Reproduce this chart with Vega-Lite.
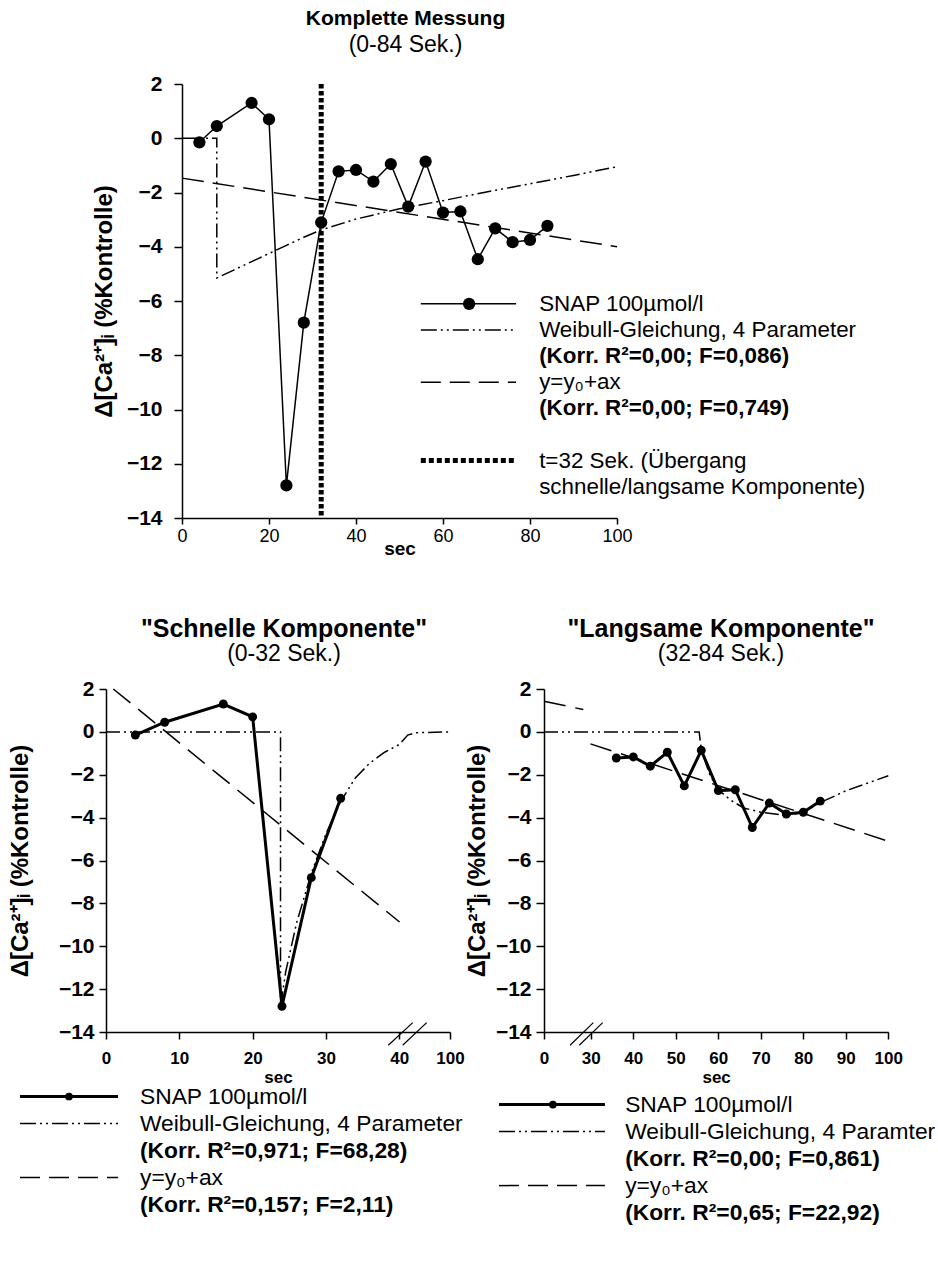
{
  "$schema": "https://vega.github.io/schema/vega-lite/v6.json",
  "padding": {"left": 8, "top": 8, "right": 0, "bottom": 0},
  "background": "white",
  "config": {
    "font": "Liberation Sans",
    "view": {"stroke": null},
    "axis": {
      "grid": false,
      "domainColor": "black",
      "domainWidth": 1.5,
      "tickColor": "black",
      "tickWidth": 1.5,
      "labelColor": "black",
      "titleColor": "black",
      "labelFlush": false,
      "labelOverlap": false
    },
    "title": {
      "color": "black",
      "subtitleColor": "black",
      "anchor": "middle",
      "frame": "group",
      "font": "Liberation Sans",
      "subtitleFont": "Liberation Sans"
    }
  },
  "datasets": {
    "snap": [
      {"t": 4, "v": -0.15}, {"t": 8, "v": 0.45}, {"t": 16, "v": 1.3}, {"t": 20, "v": 0.7},
      {"t": 24, "v": -12.8}, {"t": 28, "v": -6.8}, {"t": 32, "v": -3.1}, {"t": 36, "v": -1.22},
      {"t": 40, "v": -1.17}, {"t": 44, "v": -1.6}, {"t": 48, "v": -0.95}, {"t": 52, "v": -2.52},
      {"t": 56, "v": -0.86}, {"t": 60, "v": -2.74}, {"t": 64, "v": -2.7}, {"t": 68, "v": -4.46},
      {"t": 72, "v": -3.32}, {"t": 76, "v": -3.83}, {"t": 80, "v": -3.75}, {"t": 84, "v": -3.23}
    ],
    "weibullAll": [
      {"i": 0, "t": 0, "v": 0}, {"i": 1, "t": 8, "v": 0}, {"i": 2, "t": 8, "v": -5.15},
      {"i": 3, "t": 12, "v": -4.85}, {"i": 4, "t": 16, "v": -4.55}, {"i": 5, "t": 20, "v": -4.25},
      {"i": 6, "t": 24, "v": -3.95}, {"i": 7, "t": 28, "v": -3.65}, {"i": 8, "t": 32, "v": -3.38},
      {"i": 9, "t": 40, "v": -2.98}, {"i": 10, "t": 50, "v": -2.6}, {"i": 11, "t": 60, "v": -2.3},
      {"i": 12, "t": 70, "v": -1.98}, {"i": 13, "t": 80, "v": -1.68}, {"i": 14, "t": 90, "v": -1.37},
      {"i": 15, "t": 100, "v": -1.05}
    ],
    "linearAll": [{"t": 0, "v": -1.47}, {"t": 100, "v": -4.0}],
    "weibullFast": [
      {"i": 0, "t": 0, "v": 0}, {"i": 1, "t": 23.8, "v": 0}, {"i": 2, "t": 23.8, "v": -12.8},
      {"i": 3, "t": 24.5, "v": -11.2}, {"i": 4, "t": 26, "v": -8.9}, {"i": 5, "t": 28, "v": -6.6},
      {"i": 6, "t": 30, "v": -4.75}, {"i": 7, "t": 32, "v": -3.25}, {"i": 8, "t": 34, "v": -2.15},
      {"i": 9, "t": 36, "v": -1.45}, {"i": 10, "t": 38, "v": -0.95}, {"i": 11, "t": 40.3, "v": -0.58},
      {"i": 12, "t": 50, "v": -0.15}, {"i": 13, "t": 60, "v": -0.04}, {"i": 14, "t": 100, "v": 0}
    ],
    "linearFast": [{"t": 1.0, "v": 2.0}, {"t": 40.3, "v": -8.87}],
    "weibullSlow": [
      {"i": 0, "t": 0, "v": 0}, {"i": 1, "t": 55.5, "v": 0}, {"i": 2, "t": 56, "v": -0.85},
      {"i": 3, "t": 58, "v": -2.0}, {"i": 4, "t": 60, "v": -2.7}, {"i": 5, "t": 63, "v": -3.2},
      {"i": 6, "t": 66, "v": -3.55}, {"i": 7, "t": 70, "v": -3.75}, {"i": 8, "t": 76, "v": -3.9},
      {"i": 9, "t": 80, "v": -3.75}, {"i": 10, "t": 84, "v": -3.3}, {"i": 11, "t": 90, "v": -2.75},
      {"i": 12, "t": 100, "v": -2.05}
    ],
    "linearSlow": [
      {"seg": "a", "t": 0, "v": 1.43}, {"seg": "a", "t": 25.2, "v": 1.04},
      {"seg": "b", "t": 29.8, "v": -0.56}, {"seg": "b", "t": 100, "v": -5.1}
    ],
    "legendTop": [
      {"row": 8, "label": "SNAP 100µmol/l", "kind": "name", "key": "SNAP"},
      {"row": 9, "label": "Weibull-Gleichung, 4 Parameter", "kind": "name", "key": "Weibull"},
      {"row": 10, "label": "(Korr. R²=0,00; F=0,086)", "kind": "fit", "key": ""},
      {"row": 11, "label": "y=y₀+ax", "kind": "name", "key": "Linear"},
      {"row": 12, "label": "(Korr. R²=0,00; F=0,749)", "kind": "fit", "key": ""},
      {"row": 14, "label": "t=32 Sek. (Übergang", "kind": "name", "key": "Grenze"},
      {"row": 15, "label": "schnelle/langsame Komponente)", "kind": "name", "key": ""}
    ],
    "legendFast": [
      {"row": 0, "label": "SNAP 100µmol/l", "kind": "name", "key": "SNAP"},
      {"row": 1, "label": "Weibull-Gleichung, 4 Parameter", "kind": "name", "key": "Weibull"},
      {"row": 2, "label": "(Korr. R²=0,971; F=68,28)", "kind": "fit", "key": ""},
      {"row": 3, "label": "y=y₀+ax", "kind": "name", "key": "Linear"},
      {"row": 4, "label": "(Korr. R²=0,157; F=2,11)", "kind": "fit", "key": ""}
    ],
    "legendSlow": [
      {"row": 0, "label": "SNAP 100µmol/l", "kind": "name", "key": "SNAP"},
      {"row": 1, "label": "Weibull-Gleichung, 4 Paramter", "kind": "name", "key": "Weibull"},
      {"row": 2, "label": "(Korr. R²=0,00; F=0,861)", "kind": "fit", "key": ""},
      {"row": 3, "label": "y=y₀+ax", "kind": "name", "key": "Linear"},
      {"row": 4, "label": "(Korr. R²=0,65; F=22,92)", "kind": "fit", "key": ""}
    ]
  },
  "columns": 1,
  "align": "none",
  "spacing": 59,
  "concat": [
    {
      "spacing": -15,
      "hconcat": [
        {
          "width": 1,
          "height": 1,
          "data": {"values": []},
          "mark": {"type": "point"},
          "encoding": {}
        },
        {
          "width": 435,
          "height": 434,
          "title": {
            "text": "Komplette Messung",
            "subtitle": "(0-84 Sek.)",
            "fontSize": 21,
            "fontWeight": "bold",
            "subtitleFontSize": 23,
            "subtitleFontWeight": "normal",
            "subtitlePadding": 5,
            "offset": 16,
            "dx": 6
          },
          "resolve": {"scale": {"y": "independent"}},
          "layer": [
            {
              "layer": [
                {
                  "data": {"name": "weibullAll"},
                  "mark": {"type": "line", "color": "black", "strokeWidth": 1.5, "strokeDash": [14, 4, 2, 4, 2, 4]},
                  "encoding": {
                    "x": {
                      "field": "t", "type": "quantitative",
                      "scale": {"domain": [0, 100], "nice": false},
                      "axis": {
                        "values": [0, 20, 40, 60, 80, 100], "title": "sec",
                        "labelFontSize": 18, "tickSize": 6, "labelPadding": 3,
                        "titleFontSize": 19, "titleFontWeight": "bold", "titlePadding": -6
                      }
                    },
                    "y": {
                      "field": "v", "type": "quantitative",
                      "scale": {"domain": [-14, 2], "nice": false},
                      "axis": {
                        "values": [-14, -12, -10, -8, -6, -4, -2, 0, 2],
                        "title": "Δ[Ca²⁺]ᵢ (%Kontrolle)",
                        "labelFontSize": 21, "labelFontWeight": "bold", "tickSize": 8, "labelPadding": 12,
                        "titleFontSize": 24, "titleFontWeight": "bold", "titlePadding": 10
                      }
                    },
                    "order": {"field": "i", "type": "quantitative"}
                  }
                },
                {
                  "data": {"name": "linearAll"},
                  "mark": {"type": "line", "color": "black", "strokeWidth": 1.5, "strokeDash": [22, 9]},
                  "encoding": {
                    "x": {"field": "t", "type": "quantitative", "scale": {"domain": [0, 100], "nice": false}},
                    "y": {"field": "v", "type": "quantitative", "scale": {"domain": [-14, 2], "nice": false}}
                  }
                },
                {
                  "data": {"name": "snap"},
                  "mark": {"type": "line", "color": "black", "strokeWidth": 1.5, "point": {"filled": true, "size": 150, "color": "black", "opacity": 1}},
                  "encoding": {
                    "x": {"field": "t", "type": "quantitative", "scale": {"domain": [0, 100], "nice": false}},
                    "y": {"field": "v", "type": "quantitative", "scale": {"domain": [-14, 2], "nice": false}}
                  }
                },
                {
                  "data": {"values": [{}]},
                  "mark": {"type": "rule", "color": "black", "strokeWidth": 5, "strokeDash": [4.5, 2.5]},
                  "encoding": {
                    "x": {"datum": 32, "type": "quantitative", "scale": {"domain": [0, 100], "nice": false}},
                    "y": {"datum": 2, "type": "quantitative", "scale": {"domain": [-14, 2], "nice": false}},
                    "y2": {"datum": -14}
                  }
                }
              ]
            },
            {
              "data": {"name": "legendTop"},
              "encoding": {
                "y": {"field": "row", "type": "quantitative", "scale": {"domain": [-0.42, 16.2], "reverse": true}, "axis": null}
              },
              "layer": [
                {
                  "transform": [{"filter": "datum.key === 'SNAP'"}],
                  "mark": {"type": "rule", "color": "black", "strokeWidth": 1.5},
                  "encoding": {"x": {"datum": 54.9, "type": "quantitative"}, "x2": {"datum": 76.8}}
                },
                {
                  "transform": [{"filter": "datum.key === 'SNAP'"}],
                  "mark": {"type": "point", "filled": true, "size": 150, "color": "black", "opacity": 1},
                  "encoding": {"x": {"datum": 66, "type": "quantitative"}}
                },
                {
                  "transform": [{"filter": "datum.key === 'Weibull'"}],
                  "mark": {"type": "rule", "color": "black", "strokeWidth": 1.5, "strokeDash": [16, 4, 2, 4, 2, 4]},
                  "encoding": {"x": {"datum": 54.9, "type": "quantitative"}, "x2": {"datum": 76.8}}
                },
                {
                  "transform": [{"filter": "datum.key === 'Linear'"}],
                  "mark": {"type": "rule", "color": "black", "strokeWidth": 1.5, "strokeDash": [20, 9]},
                  "encoding": {"x": {"datum": 54.9, "type": "quantitative"}, "x2": {"datum": 76.8}}
                },
                {
                  "transform": [{"filter": "datum.key === 'Grenze'"}],
                  "mark": {"type": "rule", "color": "black", "strokeWidth": 5, "strokeDash": [5, 3]},
                  "encoding": {"x": {"datum": 54.9, "type": "quantitative"}, "x2": {"datum": 76.8}}
                },
                {
                  "transform": [{"filter": "datum.kind === 'name'"}],
                  "mark": {"type": "text", "align": "left", "baseline": "middle", "fontSize": 22.4, "color": "black"},
                  "encoding": {"x": {"datum": 82.1, "type": "quantitative"}, "text": {"field": "label"}}
                },
                {
                  "transform": [{"filter": "datum.kind === 'fit'"}],
                  "mark": {"type": "text", "align": "left", "baseline": "middle", "fontSize": 22.4, "fontWeight": "bold", "color": "black"},
                  "encoding": {"x": {"datum": 82.1, "type": "quantitative"}, "text": {"field": "label"}}
                }
              ]
            }
          ]
        }
      ]
    },
    {
      "columns": 1,
      "align": "none",
      "spacing": -2,
      "concat": [
        {
          "spacing": 0,
          "hconcat": [
            {
              "width": 344,
              "height": 343,
              "title": {
                "text": "\"Schnelle Komponente\"",
                "subtitle": "(0-32 Sek.)",
                "fontSize": 25,
                "fontWeight": "bold",
                "subtitleFontSize": 23,
                "subtitleFontWeight": "normal",
                "subtitlePadding": 1,
                "offset": 12,
                "dx": 6
              },
              "layer": [
                {
                  "data": {"name": "weibullFast"},
                  "mark": {"type": "line", "color": "black", "strokeWidth": 1.5, "strokeDash": [14, 4, 2, 4, 2, 4]},
                  "encoding": {
                    "x": {
                      "field": "t", "type": "quantitative",
                      "scale": {"domain": [0, 40, 100], "range": [0, 293.3, 344], "nice": false, "zero": false},
                      "axis": {
                        "values": [0, 10, 20, 30, 40, 100], "title": "sec",
                        "labelFontSize": 17, "labelFontWeight": "bold", "tickSize": 7, "labelPadding": 11,
                        "titleFontSize": 17, "titleFontWeight": "bold", "titlePadding": 3
                      }
                    },
                    "y": {
                      "field": "v", "type": "quantitative",
                      "scale": {"domain": [-14, 2], "nice": false},
                      "axis": {
                        "values": [-14, -12, -10, -8, -6, -4, -2, 0, 2],
                        "title": "Δ[Ca²⁺]ᵢ (%Kontrolle)",
                        "labelFontSize": 21, "labelFontWeight": "bold", "tickSize": 7, "labelPadding": 5,
                        "titleFontSize": 24, "titleFontWeight": "bold", "titlePadding": 26
                      }
                    },
                    "order": {"field": "i", "type": "quantitative"}
                  }
                },
                {
                  "data": {"name": "linearFast"},
                  "mark": {"type": "line", "color": "black", "strokeWidth": 1.5, "strokeDash": [22, 10]},
                  "encoding": {
                    "x": {"field": "t", "type": "quantitative", "scale": {"domain": [0, 40, 100], "range": [0, 293.3, 344], "nice": false, "zero": false}},
                    "y": {"field": "v", "type": "quantitative", "scale": {"domain": [-14, 2], "nice": false}}
                  }
                },
                {
                  "data": {"name": "snap"},
                  "transform": [{"filter": "datum.t <= 32"}],
                  "mark": {"type": "line", "color": "black", "strokeWidth": 3, "point": {"filled": true, "size": 80, "color": "black", "opacity": 1}},
                  "encoding": {
                    "x": {"field": "t", "type": "quantitative", "scale": {"domain": [0, 40, 100], "range": [0, 293.3, 344], "nice": false, "zero": false}},
                    "y": {"field": "v", "type": "quantitative", "scale": {"domain": [-14, 2], "nice": false}}
                  }
                },
                {
                  "data": {"values": [{}]},
                  "mark": {"type": "rule", "color": "black", "strokeWidth": 1.2},
                  "encoding": {
                    "x": {"datum": 38.5, "type": "quantitative", "scale": {"domain": [0, 40, 100], "range": [0, 293.3, 344], "nice": false, "zero": false}},
                    "y": {"datum": -14.62, "type": "quantitative", "scale": {"domain": [-14, 2], "nice": false}},
                    "x2": {"datum": 55.9},
                    "y2": {"datum": -13.56}
                  }
                },
                {
                  "data": {"values": [{}]},
                  "mark": {"type": "rule", "color": "black", "strokeWidth": 1.2},
                  "encoding": {
                    "x": {"datum": 44, "type": "quantitative", "scale": {"domain": [0, 40, 100], "range": [0, 293.3, 344], "nice": false, "zero": false}},
                    "y": {"datum": -14.62, "type": "quantitative", "scale": {"domain": [-14, 2], "nice": false}},
                    "x2": {"datum": 72.4},
                    "y2": {"datum": -13.56}
                  }
                }
              ]
            },
            {
              "width": 344,
              "height": 343,
              "title": {
                "text": "\"Langsame Komponente\"",
                "subtitle": "(32-84 Sek.)",
                "fontSize": 25,
                "fontWeight": "bold",
                "subtitleFontSize": 23,
                "subtitleFontWeight": "normal",
                "subtitlePadding": 1,
                "offset": 12,
                "dx": 5
              },
              "layer": [
                {
                  "data": {"name": "weibullSlow"},
                  "mark": {"type": "line", "color": "black", "strokeWidth": 1.5, "strokeDash": [14, 4, 2, 4, 2, 4]},
                  "encoding": {
                    "x": {
                      "field": "t", "type": "quantitative",
                      "scale": {"domain": [0, 30, 100], "range": [0, 46.8, 344.3], "nice": false, "zero": false},
                      "axis": {
                        "values": [0, 30, 40, 50, 60, 70, 80, 90, 100], "title": "sec",
                        "labelFontSize": 17, "labelFontWeight": "bold", "tickSize": 7, "labelPadding": 11,
                        "titleFontSize": 17, "titleFontWeight": "bold", "titlePadding": 3
                      }
                    },
                    "y": {
                      "field": "v", "type": "quantitative",
                      "scale": {"domain": [-14, 2], "nice": false},
                      "axis": {
                        "values": [-14, -12, -10, -8, -6, -4, -2, 0, 2],
                        "title": "Δ[Ca²⁺]ᵢ (%Kontrolle)",
                        "labelFontSize": 21, "labelFontWeight": "bold", "tickSize": 8, "labelPadding": 5,
                        "titleFontSize": 24, "titleFontWeight": "bold", "titlePadding": 6
                      }
                    },
                    "order": {"field": "i", "type": "quantitative"}
                  }
                },
                {
                  "data": {"name": "linearSlow"},
                  "mark": {"type": "line", "color": "black", "strokeWidth": 1.5, "strokeDash": [22, 10]},
                  "encoding": {
                    "x": {"field": "t", "type": "quantitative", "scale": {"domain": [0, 30, 100], "range": [0, 46.8, 344.3], "nice": false, "zero": false}},
                    "y": {"field": "v", "type": "quantitative", "scale": {"domain": [-14, 2], "nice": false}},
                    "detail": {"field": "seg", "type": "nominal"}
                  }
                },
                {
                  "data": {"name": "snap"},
                  "transform": [{"filter": "datum.t >= 36"}],
                  "mark": {"type": "line", "color": "black", "strokeWidth": 3, "point": {"filled": true, "size": 80, "color": "black", "opacity": 1}},
                  "encoding": {
                    "x": {"field": "t", "type": "quantitative", "scale": {"domain": [0, 30, 100], "range": [0, 46.8, 344.3], "nice": false, "zero": false}},
                    "y": {"field": "v", "type": "quantitative", "scale": {"domain": [-14, 2], "nice": false}}
                  }
                },
                {
                  "data": {"values": [{}]},
                  "mark": {"type": "rule", "color": "black", "strokeWidth": 1.2},
                  "encoding": {
                    "x": {"datum": 16.7, "type": "quantitative", "scale": {"domain": [0, 30, 100], "range": [0, 46.8, 344.3], "nice": false, "zero": false}},
                    "y": {"datum": -14.62, "type": "quantitative", "scale": {"domain": [-14, 2], "nice": false}},
                    "x2": {"datum": 30.6},
                    "y2": {"datum": -13.56}
                  }
                },
                {
                  "data": {"values": [{}]},
                  "mark": {"type": "rule", "color": "black", "strokeWidth": 1.2},
                  "encoding": {
                    "x": {"datum": 22.6, "type": "quantitative", "scale": {"domain": [0, 30, 100], "range": [0, 46.8, 344.3], "nice": false, "zero": false}},
                    "y": {"datum": -14.62, "type": "quantitative", "scale": {"domain": [-14, 2], "nice": false}},
                    "x2": {"datum": 32.8},
                    "y2": {"datum": -13.56}
                  }
                }
              ]
            }
          ]
        },
        {
          "spacing": 19,
          "hconcat": [
            {
              "width": 372,
              "height": 135,
              "data": {"name": "legendFast"},
              "encoding": {
                "y": {"field": "row", "type": "quantitative", "scale": {"domain": [-0.5, 4.5], "reverse": true}, "axis": null}
              },
              "layer": [
                {
                  "transform": [{"filter": "datum.key === 'SNAP'"}],
                  "mark": {"type": "rule", "color": "black", "strokeWidth": 3},
                  "encoding": {"x": {"datum": -23.12, "type": "quantitative", "scale": {"domain": [0, 100]}, "axis": null}, "x2": {"datum": 3.23}}
                },
                {
                  "transform": [{"filter": "datum.key === 'SNAP'"}],
                  "mark": {"type": "point", "filled": true, "size": 60, "color": "black", "opacity": 1},
                  "encoding": {"x": {"datum": -9.95, "type": "quantitative", "scale": {"domain": [0, 100]}, "axis": null}}
                },
                {
                  "transform": [{"filter": "datum.key === 'Weibull'"}],
                  "mark": {"type": "rule", "color": "black", "strokeWidth": 1.5, "strokeDash": [16, 4, 2, 4, 2, 4]},
                  "encoding": {"x": {"datum": -23.12, "type": "quantitative", "scale": {"domain": [0, 100]}, "axis": null}, "x2": {"datum": 3.23}}
                },
                {
                  "transform": [{"filter": "datum.key === 'Linear'"}],
                  "mark": {"type": "rule", "color": "black", "strokeWidth": 1.5, "strokeDash": [20, 9]},
                  "encoding": {"x": {"datum": -23.12, "type": "quantitative", "scale": {"domain": [0, 100]}, "axis": null}, "x2": {"datum": 3.23}}
                },
                {
                  "transform": [{"filter": "datum.kind === 'name'"}],
                  "mark": {"type": "text", "align": "left", "baseline": "middle", "fontSize": 22.8, "color": "black"},
                  "encoding": {"x": {"datum": 9.14, "type": "quantitative", "scale": {"domain": [0, 100]}, "axis": null}, "text": {"field": "label"}}
                },
                {
                  "transform": [{"filter": "datum.kind === 'fit'"}],
                  "mark": {"type": "text", "align": "left", "baseline": "middle", "fontSize": 22.8, "fontWeight": "bold", "color": "black"},
                  "encoding": {"x": {"datum": 9.14, "type": "quantitative", "scale": {"domain": [0, 100]}, "axis": null}, "text": {"field": "label"}}
                }
              ]
            },
            {
              "width": 430,
              "height": 135,
              "data": {"name": "legendSlow"},
              "encoding": {
                "y": {"field": "row", "type": "quantitative", "scale": {"domain": [-0.8, 4.2], "reverse": true}, "axis": null}
              },
              "layer": [
                {
                  "transform": [{"filter": "datum.key === 'SNAP'"}],
                  "mark": {"type": "rule", "color": "black", "strokeWidth": 3},
                  "encoding": {"x": {"datum": 0.47, "type": "quantitative", "scale": {"domain": [0, 100]}, "axis": null}, "x2": {"datum": 25.1}}
                },
                {
                  "transform": [{"filter": "datum.key === 'SNAP'"}],
                  "mark": {"type": "point", "filled": true, "size": 60, "color": "black", "opacity": 1},
                  "encoding": {"x": {"datum": 13, "type": "quantitative", "scale": {"domain": [0, 100]}, "axis": null}}
                },
                {
                  "transform": [{"filter": "datum.key === 'Weibull'"}],
                  "mark": {"type": "rule", "color": "black", "strokeWidth": 1.5, "strokeDash": [16, 4, 2, 4, 2, 4]},
                  "encoding": {"x": {"datum": 0.47, "type": "quantitative", "scale": {"domain": [0, 100]}, "axis": null}, "x2": {"datum": 25.1}}
                },
                {
                  "transform": [{"filter": "datum.key === 'Linear'"}],
                  "mark": {"type": "rule", "color": "black", "strokeWidth": 1.5, "strokeDash": [20, 9]},
                  "encoding": {"x": {"datum": 0.47, "type": "quantitative", "scale": {"domain": [0, 100]}, "axis": null}, "x2": {"datum": 25.1}}
                },
                {
                  "transform": [{"filter": "datum.kind === 'name'"}],
                  "mark": {"type": "text", "align": "left", "baseline": "middle", "fontSize": 22.8, "color": "black"},
                  "encoding": {"x": {"datum": 29.8, "type": "quantitative", "scale": {"domain": [0, 100]}, "axis": null}, "text": {"field": "label"}}
                },
                {
                  "transform": [{"filter": "datum.kind === 'fit'"}],
                  "mark": {"type": "text", "align": "left", "baseline": "middle", "fontSize": 22.8, "fontWeight": "bold", "color": "black"},
                  "encoding": {"x": {"datum": 29.8, "type": "quantitative", "scale": {"domain": [0, 100]}, "axis": null}, "text": {"field": "label"}}
                }
              ]
            }
          ]
        }
      ]
    }
  ]
}
